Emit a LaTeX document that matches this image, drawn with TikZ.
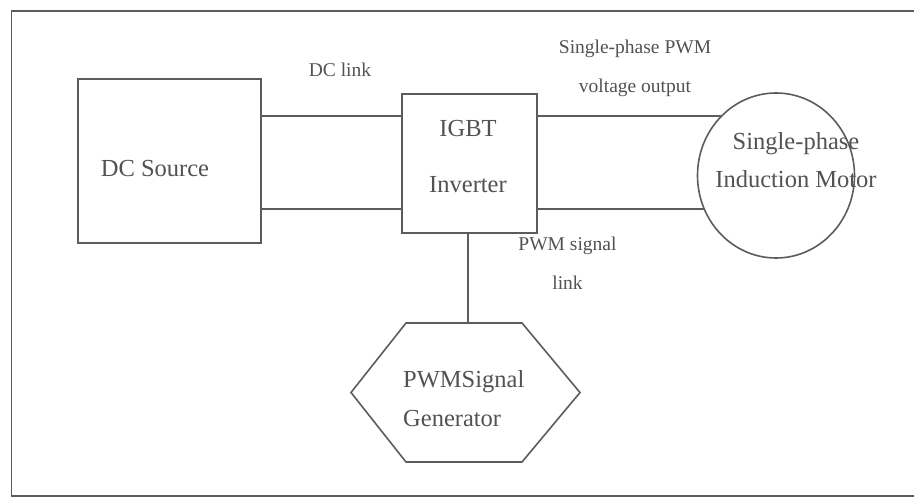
\documentclass[tikz,border=0pt]{standalone}
\usepackage{fontspec}
\setmainfont{Liberation Serif}
\usetikzlibrary{shapes.geometric}
\definecolor{ink}{gray}{0.36}
\definecolor{txt}{gray}{0.32}
\tikzset{
  blk/.style={draw=ink, line width=1.6pt, inner sep=0pt},
  wire/.style={draw=ink, line width=1.6pt},
  lbl/.style={text=txt, font=\fontsize{19.5}{39}\selectfont, align=center, inner sep=0pt},
  big/.style={text=txt, font=\fontsize{24.5}{38.5}\selectfont, align=center, inner sep=0pt}
}
\begin{document}
\begin{tikzpicture}[x=1pt,y=-1pt]
\useasboundingbox (0,0) rectangle (914,498);
% outer frame
\draw[draw=ink, line width=1.5pt] (930,11) -- (11.5,11) -- (11.5,496) -- (930,496);
% blocks
\node[blk, minimum width=183pt, minimum height=164pt] (dc) at (169.5,161) {};
\node[blk, minimum width=135pt, minimum height=139pt] (igbt) at (469.5,163.5) {};
\node[blk, ellipse, minimum width=157pt, minimum height=165pt] (mot) at (776,175.5) {};
\draw[wire] (351,392.5) -- (406,323) -- (522,323) -- (580,392.5) -- (522,462) -- (406,462) -- cycle;
\coordinate (gtop) at (468,323);
% texts
\node[big] (dct) at (155,169) {DC Source};
\node[big, font=\fontsize{24.5}{56}\selectfont] (igt) at (468,157) {IGBT\\Inverter};
\node[big] (mott) at (796,160) {Single-phase\\Induction Motor};
\node[big, align=left, anchor=west] (gent) at (403,398.5) {PWMSignal\\Generator};
\node[lbl] (l1) at (340,70) {DC link};
\node[lbl] (l2) at (635,68.5) {Single-phase PWM\\voltage output};
\node[lbl] (l3) at (567.5,263.5) {PWM signal\\link};
% connectors
\coordinate (y1) at (0,116);
\coordinate (y2) at (0,209);
\draw[wire] (dc.east |- y1) -- (igbt.west |- y1);
\draw[wire] (dc.east |- y2) -- (igbt.west |- y2);
\draw[wire] (igbt.east |- mot.133.4) -- (mot.133.4);
\draw[wire] (igbt.east |- mot.205.8) -- (mot.205.8);
\draw[wire] (igbt.south -| gtop) -- (gtop);
\end{tikzpicture}
\end{document}
